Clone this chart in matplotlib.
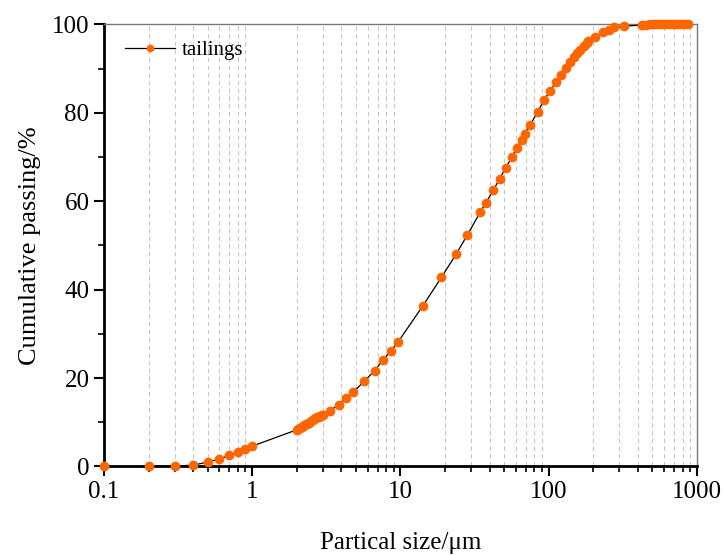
import numpy as np
import matplotlib
matplotlib.use("Agg")
import matplotlib.pyplot as plt
from matplotlib.ticker import FixedLocator, FixedFormatter, MultipleLocator

plt.rcParams['font.family'] = ['Liberation Serif', 'DejaVu Serif']
plt.rcParams['mathtext.fontset'] = 'stix'

# particle size (um)
size_um = [0.1, 0.2, 0.3, 0.4, 0.5, 0.6, 0.7, 0.8, 0.9, 1.0,
           2.0, 2.05, 2.1, 2.15, 2.2, 2.25, 2.3, 2.35, 2.4, 2.45, 2.5,
           2.55, 2.6, 2.65, 2.7, 2.75, 2.8, 2.85, 2.9, 2.95, 3.0,
           3.35, 3.85, 4.3, 4.8, 5.7, 6.7, 7.6, 8.6, 9.6, 14.2,
           18.9, 23.7, 28.3, 34.6, 37.6, 42.3, 46.7, 51.4, 56.2, 60.7,
           65.6, 69.0, 74.9, 84.3, 92.5, 102, 112, 121, 131, 139,
           147, 155, 163, 172, 180, 185, 205, 233, 255, 277, 322,
           424, 450, 480, 510, 540, 575, 610, 645, 685, 725, 770, 815, 865]
# cumulative passing (%)
passing = [0.0, 0.0, 0.1, 0.3, 1.0, 1.7, 2.5, 3.3, 4.0, 4.6,
           8.3, 8.5, 8.7, 8.9, 9.1, 9.3, 9.5, 9.7, 9.9, 10.1, 10.3,
           10.5, 10.7, 10.9, 11.0, 11.2, 11.3, 11.4, 11.5, 11.6, 11.7,
           12.6, 14.0, 15.4, 16.8, 19.3, 21.7, 24.0, 26.1, 28.1, 36.4,
           42.8, 48.0, 52.4, 57.6, 59.6, 62.5, 65.1, 67.6, 69.9, 72.0,
           73.9, 75.3, 77.3, 80.2, 82.8, 84.9, 86.9, 88.6, 90.1, 91.5,
           92.5, 93.4, 94.2, 95.0, 95.7, 96.2, 97.1, 98.3, 98.8, 99.3, 99.6,
           99.8, 99.9, 100, 100, 100, 100, 100, 100, 100, 100, 100, 100, 100]

x_major = [0.1, 1, 10, 100, 1000]
x_labels = ['0.1', '1', '10', '100', '1000']

fig = plt.figure(figsize=(7.25, 5.56), dpi=100)
ax = fig.add_axes([0.1434, 0.161, 0.818, 0.7953])

ax.plot(size_um, passing, '-', color='black', lw=0.9,
        marker='o', ms=6, mfc='#ff6600', mec='#ff6600', label='tailings',
        clip_on=False, zorder=3)

ax.set_xscale('log')
ax.set_xlim(0.1, 1000)
ax.set_ylim(0, 100)

ax.xaxis.set_major_locator(FixedLocator(x_major))
ax.xaxis.set_major_formatter(FixedFormatter(x_labels))
minors = [m * 10.0 ** e for e in range(-1, 3) for m in range(2, 10)]
ax.xaxis.set_minor_locator(FixedLocator(minors))
ax.xaxis.set_minor_formatter(FixedFormatter([''] * len(minors)))
ax.yaxis.set_major_locator(MultipleLocator(20))
ax.yaxis.set_minor_locator(MultipleLocator(10))

ax.grid(True, which='minor', axis='x', color='#c8c8c8', ls=(0, (4, 3)), lw=0.8)

ax.tick_params(which='major', direction='out', length=7, width=1.5, labelsize=18)
ax.tick_params(which='minor', direction='out', length=4, width=1.2)

for s in ['left', 'bottom']:
    ax.spines[s].set_linewidth(2)
    ax.spines[s].set_color('black')
for s in ['top', 'right']:
    ax.spines[s].set_linewidth(1)
    ax.spines[s].set_color('#777777')

ax.set_xlabel('Partical size/μm', fontsize=18, labelpad=21)
ax.set_ylabel('Cumulative passing/%', fontsize=19, labelpad=8)

ax.legend(loc='upper left', frameon=False, fontsize=15, handlelength=2.4,
          handletextpad=0.35, borderaxespad=0.6, bbox_to_anchor=(0.0, 1.01),
          markerscale=0.75)

fig.savefig('out.png', dpi=100)
